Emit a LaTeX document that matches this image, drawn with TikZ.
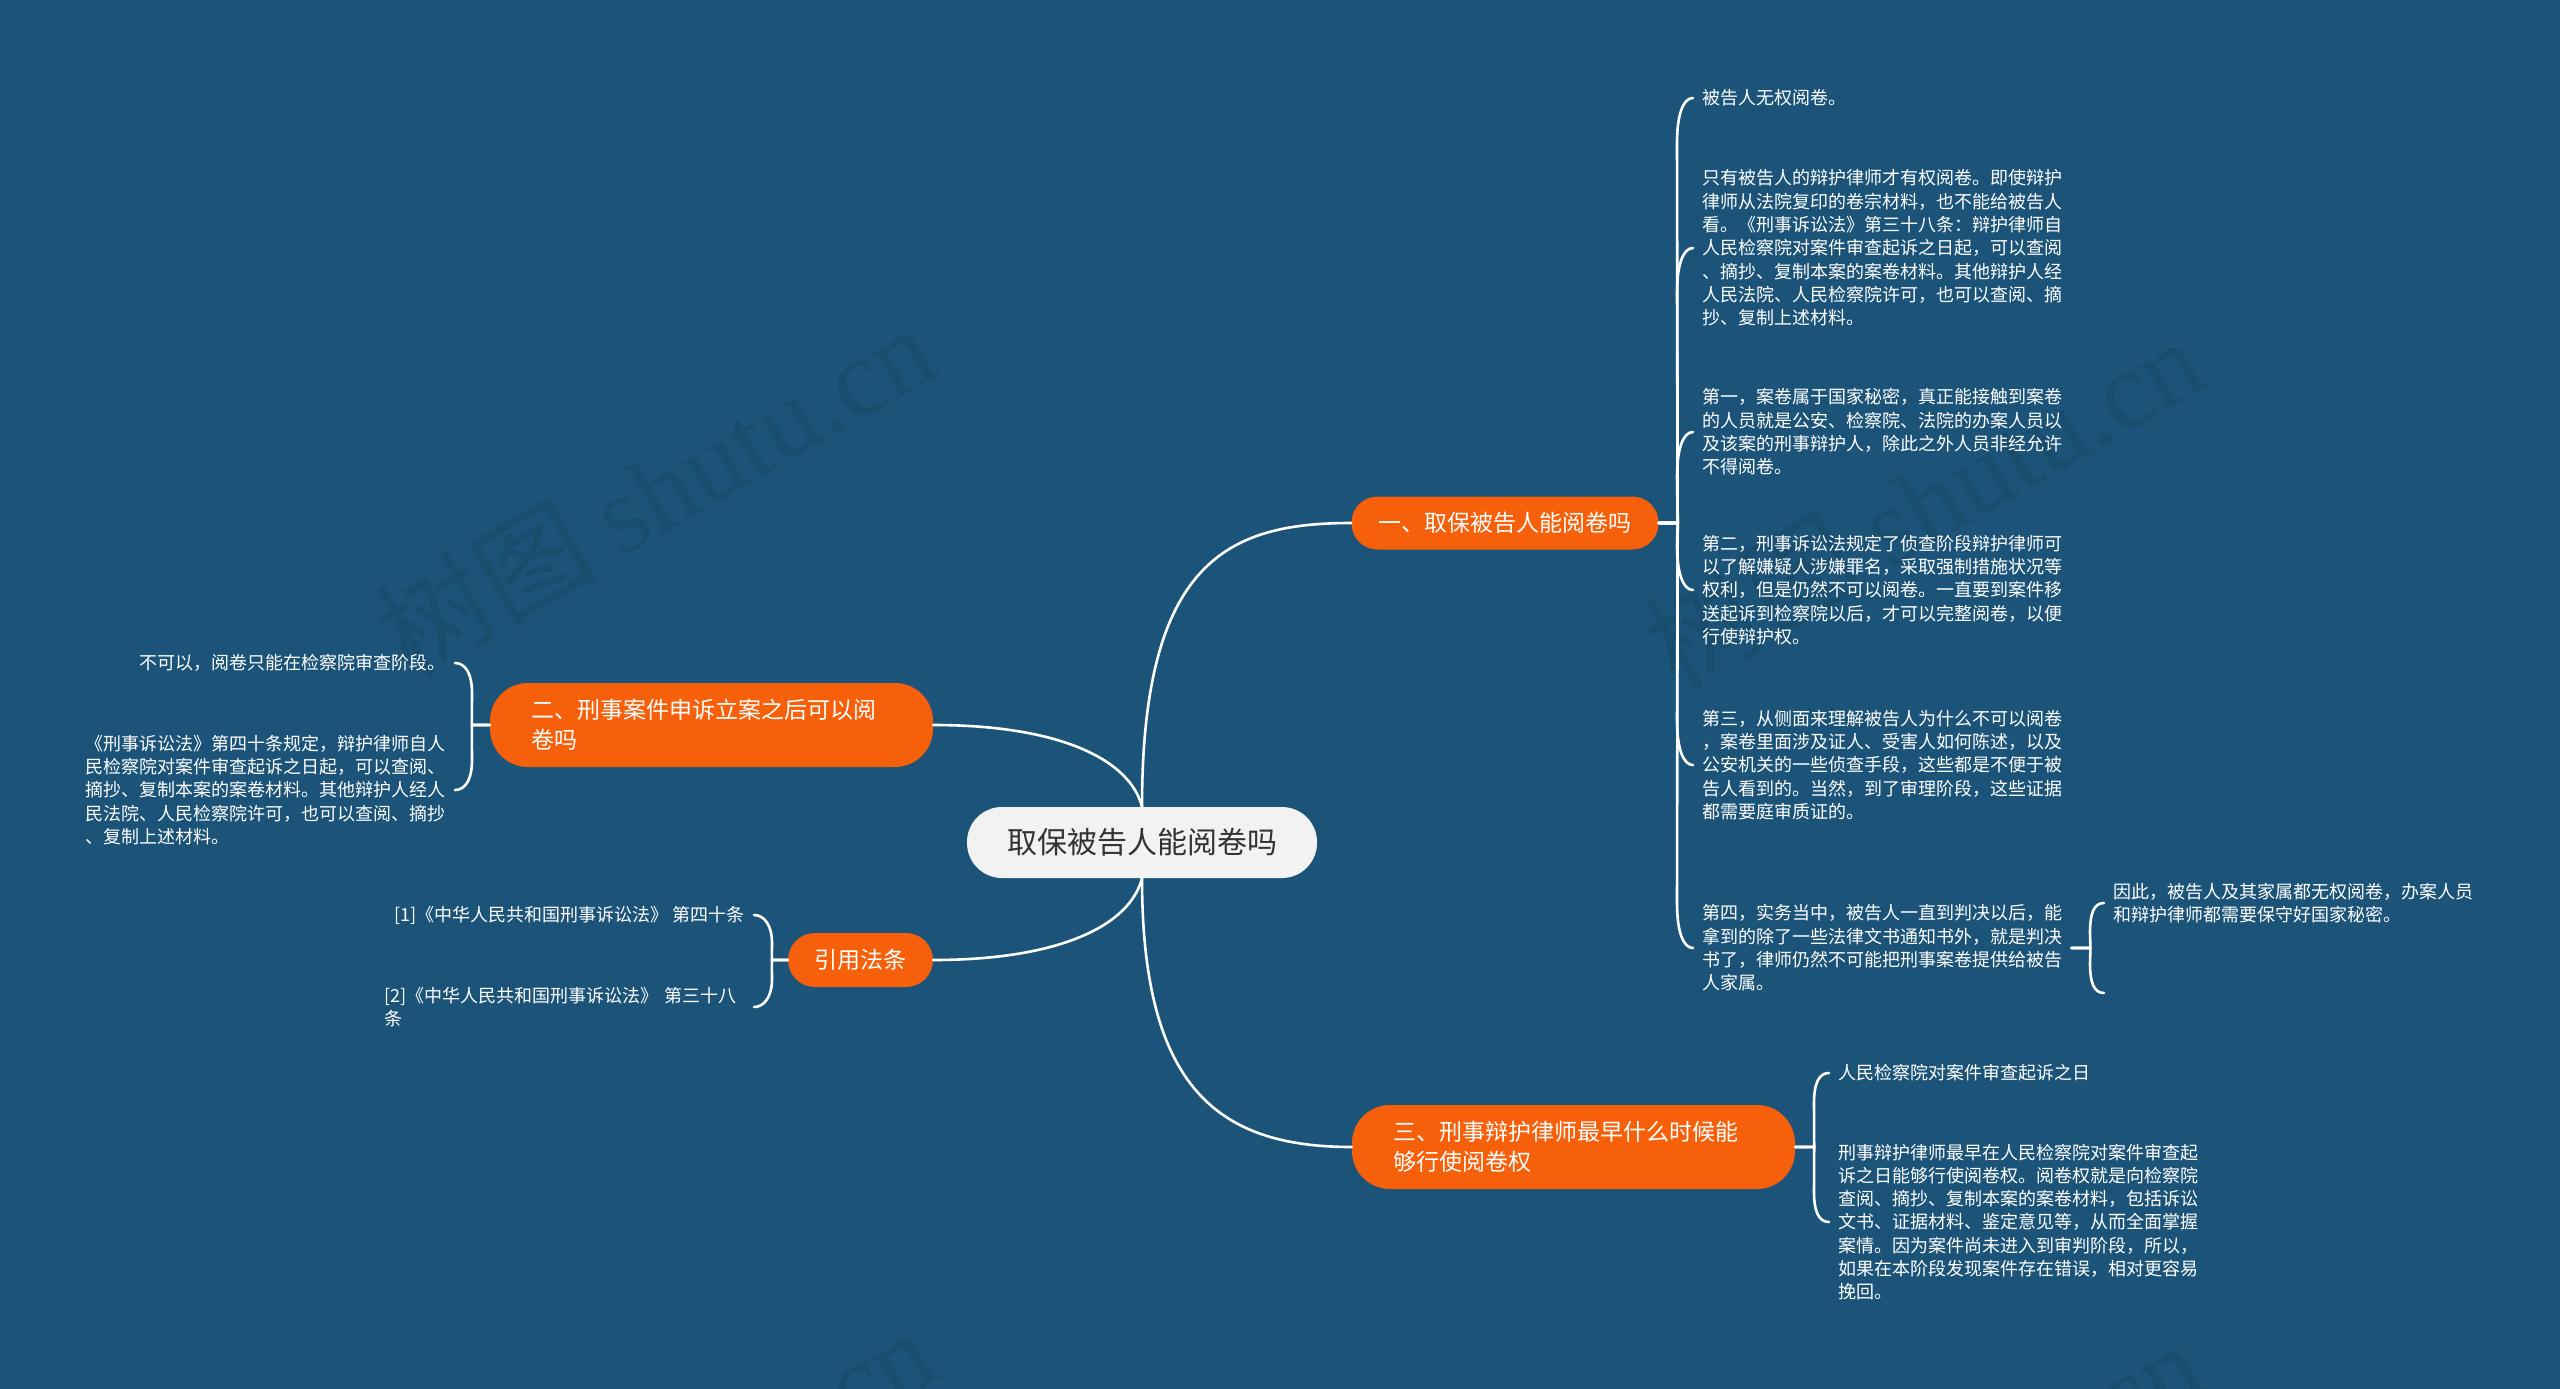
\documentclass[tikz,border=0pt]{standalone}
\usepackage{fontspec}
\setmainfont{Noto Sans CJK SC}
\newfontfamily\wmlatin{Liberation Serif}
\usetikzlibrary{calc}
\definecolor{bgblue}{RGB}{27,84,120}
\definecolor{wmblue}{RGB}{24,77,110}
\definecolor{topicorange}{RGB}{247,96,10}
\definecolor{rootfill}{RGB}{242,242,242}
\definecolor{roottext}{RGB}{51,51,51}
\begin{document}
\begin{tikzpicture}[x=1pt,y=-1pt,
  conn/.style={draw=white, line width=2.6pt, line cap=round, line join=round},
  topic/.style={fill=topicorange, text=white, font=\fontsize{23}{30}\selectfont, inner ysep=0pt, align=left},
  roottopic/.style={fill=rootfill, text=roottext, font=\fontsize{30}{36}\selectfont, minimum width=350pt, minimum height=71pt, rounded corners=35pt, inner sep=0pt},
  leaf/.style={text=white, font=\fontsize{18}{23.3}\selectfont, align=left, inner xsep=9pt, inner ysep=0pt},
  wm/.style={text=wmblue, rotate=30, font=\fontsize{110}{120}\selectfont}
]
\fill[bgblue] (0,0) rectangle (2560,1389);
\useasboundingbox (0,0) rectangle (2560,1389);

% watermarks
\begin{scope}
\clip (0,0) rectangle (2560,1389);
\node[wm] (wm1) at (655,490) {树图 {\wmlatin shutu.cn}};
\node[wm] (wm2) at (1923,502) {树图 {\wmlatin shutu.cn}};
\node[wm] (wm3) at (655,1494) {树图 {\wmlatin shutu.cn}};
\node[wm] (wm4) at (1923,1506) {树图 {\wmlatin shutu.cn}};
\end{scope}

% main topics
\node[roottopic] (root) at (1142,842.5) {取保被告人能阅卷吗};
\node[topic, minimum width=307pt, minimum height=53pt, rounded corners=26pt, inner xsep=0pt] (n1) at (1505,523) {一、取保被告人能阅卷吗};
\node[topic, text width=360pt, inner xsep=41.5pt, minimum height=84pt, rounded corners=38pt] (n2) at (711.5,725) {二、刑事案件申诉立案之后可以阅\\卷吗};
\node[topic, text width=360pt, inner xsep=41.5pt, minimum height=84pt, rounded corners=38pt] (n3) at (1573.5,1147) {三、刑事辩护律师最早什么时候能\\够行使阅卷权};
\node[topic, minimum width=145pt, minimum height=54pt, rounded corners=27pt, inner xsep=0pt] (n4) at (860.5,960) {引用法条};

% root connectors
\draw[conn] (root.north) .. controls +(0,-247) and +(-122,0) .. (n1.west);
\draw[conn] (root.north) .. controls +(-12,-47) and +(127,0) .. (n2.east);
\draw[conn] (root.south) .. controls +(-12,47) and +(127,0) .. (n4.east);
\draw[conn] (root.south) .. controls +(0,212) and +(-132,0) .. (n3.west);

% children of n1
\node[leaf, anchor=west] (c11) at (1693,98) {被告人无权阅卷。};
\node[leaf, anchor=west, text width=360pt] (c12) at (1693,248) {只有被告人的辩护律师才有权阅卷。即使辩护\\律师从法院复印的卷宗材料，也不能给被告人\\看。《刑事诉讼法》第三十八条：辩护律师自\\人民检察院对案件审查起诉之日起，可以查阅\\、摘抄、复制本案的案卷材料。其他辩护人经\\人民法院、人民检察院许可，也可以查阅、摘\\抄、复制上述材料。};
\node[leaf, anchor=west, text width=360pt] (c13) at (1693,432) {第一，案卷属于国家秘密，真正能接触到案卷\\的人员就是公安、检察院、法院的办案人员以\\及该案的刑事辩护人，除此之外人员非经允许\\不得阅卷。};
\node[leaf, anchor=west, text width=360pt] (c14) at (1693,590) {第二，刑事诉讼法规定了侦查阶段辩护律师可\\以了解嫌疑人涉嫌罪名，采取强制措施状况等\\权利，但是仍然不可以阅卷。一直要到案件移\\送起诉到检察院以后，才可以完整阅卷，以便\\行使辩护权。};
\node[leaf, anchor=west, text width=360pt] (c15) at (1693,765) {第三，从侧面来理解被告人为什么不可以阅卷\\，案卷里面涉及证人、受害人如何陈述，以及\\公安机关的一些侦查手段，这些都是不便于被\\告人看到的。当然，到了审理阶段，这些证据\\都需要庭审质证的。};
\node[leaf, anchor=west, text width=360pt] (c16) at (1693,948) {第四，实务当中，被告人一直到判决以后，能\\拿到的除了一些法律文书通知书外，就是判决\\书了，律师仍然不可能把刑事案卷提供给被告\\人家属。};
\node[leaf, anchor=west, text width=360pt] (c161) at (2104,903) {因此，被告人及其家属都无权阅卷，办案人员\\和辩护律师都需要保守好国家秘密。};
\coordinate (b161) at (2104,993);

\draw[conn] (n1.east) -- ++(19,0) -- ($(c11.west)+(-16,45)$) .. controls +(0,-28) and +(-10,0) .. (c11.west);
\draw[conn] (n1.east) -- ++(19,0) -- ($(c12.west)+(-16,45)$) .. controls +(0,-28) and +(-10,0) .. (c12.west);
\draw[conn] (n1.east) -- ++(19,0) -- ($(c13.west)+(-16,45)$) .. controls +(0,-28) and +(-10,0) .. (c13.west);
\draw[conn] (n1.east) -- ++(19,0) -- ($(c14.west)+(-16,-45)$) .. controls +(0,28) and +(-10,0) .. (c14.west);
\draw[conn] (n1.east) -- ++(19,0) -- ($(c15.west)+(-16,-45)$) .. controls +(0,28) and +(-10,0) .. (c15.west);
\draw[conn] (n1.east) -- ++(19,0) -- ($(c16.west)+(-16,-45)$) .. controls +(0,28) and +(-10,0) .. (c16.west);

\draw[conn] (c16.east) -- ++(19,0) -- ($(c161.west)+(-14,30)$) .. controls +(0,-20) and +(-10,0) .. (c161.west);
\draw[conn] (c16.east) -- ++(19,0) -- ($(b161)+(-14,-30)$) .. controls +(0,20) and +(-10,0) .. (b161);

% children of n3
\node[leaf, anchor=west] (c31) at (1829,1073) {人民检察院对案件审查起诉之日};
\node[leaf, anchor=west, text width=360pt] (c32) at (1829,1222) {刑事辩护律师最早在人民检察院对案件审查起\\诉之日能够行使阅卷权。阅卷权就是向检察院\\查阅、摘抄、复制本案的案卷材料，包括诉讼\\文书、证据材料、鉴定意见等，从而全面掌握\\案情。因为案件尚未进入到审判阶段，所以，\\如果在本阶段发现案件存在错误，相对更容易\\挽回。};
\draw[conn] (n3.east) -- ++(19,0) -- ($(c31.west)+(-15,30)$) .. controls +(0,-20) and +(-10,0) .. (c31.west);
\draw[conn] (n3.east) -- ++(19,0) -- ($(c32.west)+(-15,-30)$) .. controls +(0,20) and +(-10,0) .. (c32.west);

% children of n2
\node[leaf, anchor=east] (c21) at (455,663) {不可以，阅卷只能在检察院审查阶段。};
\node[leaf, anchor=east, text width=360pt] (c22) at (455,790) {《刑事诉讼法》第四十条规定，辩护律师自人\\民检察院对案件审查起诉之日起，可以查阅、\\摘抄、复制本案的案卷材料。其他辩护人经人\\民法院、人民检察院许可，也可以查阅、摘抄\\、复制上述材料。};
\draw[conn] (n2.west) -- ++(-18,0) -- ($(c21.east)+(17,30)$) .. controls +(0,-20) and +(10,0) .. (c21.east);
\draw[conn] (n2.west) -- ++(-18,0) -- ($(c22.east)+(17,-30)$) .. controls +(0,20) and +(10,0) .. (c22.east);

% children of n4
\node[leaf, anchor=east] (c41) at (754,915) {[1]《中华人民共和国刑事诉讼法》 第四十条};
\node[leaf, anchor=east, text width=360pt] (c42) at (754,1007) {[2]《中华人民共和国刑事诉讼法》 第三十八\\条};
\draw[conn] (n4.west) -- ++(-16,0) -- ($(c41.east)+(18,28)$) .. controls +(0,-18) and +(10,0) .. (c41.east);
\draw[conn] (n4.west) -- ++(-16,0) -- ($(c42.east)+(18,-28)$) .. controls +(0,18) and +(10,0) .. (c42.east);
\end{tikzpicture}
\end{document}
